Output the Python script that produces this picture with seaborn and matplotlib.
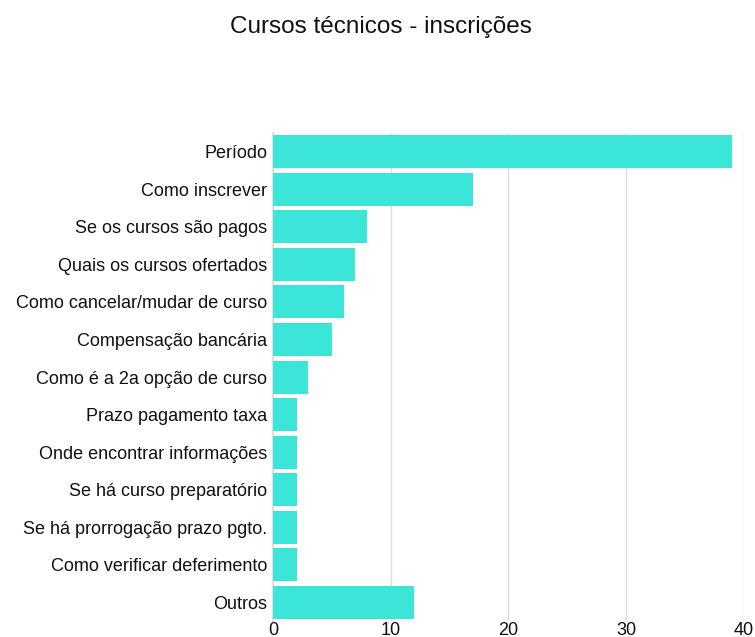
import matplotlib
matplotlib.use("Agg")
import matplotlib.pyplot as plt
import seaborn as sns
import pandas as pd

categories = [
    "Período", "Como inscrever", "Se os cursos são pagos", "Quais os cursos ofertados",
    "Como cancelar/mudar de curso", "Compensação bancária", "Como é a 2a opção de curso",
    "Prazo pagamento taxa", "Onde encontrar informações", "Se há curso preparatório",
    "Se há prorrogação prazo pgto.", "Como verificar deferimento", "Outros",
]
values = [39, 17, 8, 7, 6, 5, 3, 2, 2, 2, 2, 2, 12]
x_ticks = [0, 10, 20, 30, 40]
title = "Cursos técnicos - inscrições"

sns.set_theme(style="white")
plt.rcParams["font.family"] = ["Liberation Sans", "DejaVu Sans"]

df = pd.DataFrame({"cat": categories, "val": values})

fig = plt.figure(figsize=(7.55, 6.37), dpi=100)
ax = fig.add_axes([0.3616, 0.0251, 0.6238, 0.766])
sns.barplot(data=df, y="cat", x="val", color="#3be5d7", saturation=1, width=0.88,
            orient="h", ax=ax, zorder=3, linewidth=0)
ax.set_xlim(0, 40)
ax.set_ylim(12.5, -0.5)
ax.set_xticks(x_ticks)
ax.xaxis.grid(True, color="#dddddd", linewidth=1, zorder=0)
ax.set_axisbelow(True)
for s in ["top", "right", "bottom"]:
    ax.spines[s].set_visible(False)
ax.spines["left"].set_color("#dddddd")
ax.set_xlabel("")
ax.set_ylabel("")
ax.tick_params(axis="y", labelsize=13, pad=4, length=0, colors="#111111")
ax.tick_params(axis="x", labelsize=13, pad=1, length=0, colors="#111111")
fig.suptitle(title, x=0.505, y=0.975, fontsize=17.5, color="#111111")
fig.savefig("out.png", dpi=100)
